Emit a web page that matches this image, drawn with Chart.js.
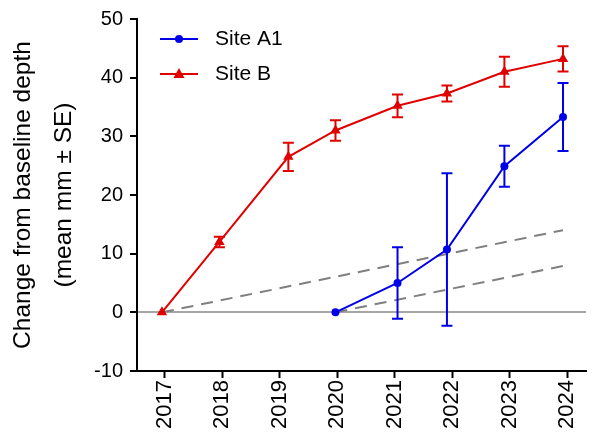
<!DOCTYPE html>
<html><head><meta charset="utf-8">
<script src="https://cdn.jsdelivr.net/npm/chart.js@4.4.0/dist/chart.umd.min.js"></script>
<style>html,body{margin:0;padding:0;background:#fff;}</style>
</head><body>
<canvas id="c" width="592" height="434"></canvas>
<script>
// ---- data ----
const tickYears = [2017, 2018, 2019, 2020, 2021, 2022, 2023, 2024];
const yTickValues = [-10, 0, 10, 20, 30, 40, 50];
const siteALabel = 'Site A1';
const siteAX = [2019.97, 2021.05, 2021.91, 2022.91, 2023.93];
const siteAMean = [0, 5.0, 10.7, 24.9, 33.3];
const siteASE = [0, 6.1, 13.0, 3.5, 5.8];
const siteBLabel = 'Site B';
const siteBX = [2016.95, 2017.95, 2019.15, 2019.97, 2021.05, 2021.91, 2022.91, 2023.93];
const siteBMean = [0, 12.0, 26.5, 31.0, 35.2, 37.3, 41.0, 43.2];
const siteBSE = [0, 0.9, 2.4, 1.75, 1.95, 1.35, 2.55, 2.15];
const refBX = [2016.95, 2023.93];
const refBY = [0, 14.0];
const refAX = [2019.97, 2023.93];
const refAY = [0, 7.9];
const yTitle = ['Change from baseline depth', '(mean mm \u00b1 SE)'];

const BLUE = '#0000e8';
const RED = '#e00000';
const FONT = 'Liberation Sans';

const pts = (xs, ys) => xs.map((v, i) => ({x: v, y: ys[i]}));

const series = [
  {color: BLUE, x: siteAX, mean: siteAMean, se: siteASE},
  {color: RED, x: siteBX, mean: siteBMean, se: siteBSE}
];

const errorBars = {
  id: 'errorBars',
  afterDatasetsDraw(chart) {
    const {ctx, scales: {x, y}} = chart;
    series.forEach(s => {
      ctx.save();
      ctx.strokeStyle = s.color;
      ctx.lineWidth = 2;
      s.x.forEach((xv, i) => {
        const se = s.se[i];
        if (!se) return;
        const px = x.getPixelForValue(xv);
        const top = y.getPixelForValue(s.mean[i] + se);
        const bot = y.getPixelForValue(s.mean[i] - se);
        ctx.beginPath();
        ctx.moveTo(px, top); ctx.lineTo(px, bot);
        ctx.moveTo(px - 5.5, top); ctx.lineTo(px + 5.5, top);
        ctx.moveTo(px - 5.5, bot); ctx.lineTo(px + 5.5, bot);
        ctx.stroke();
      });
      ctx.restore();
    });
  }
};

const customLegend = {
  id: 'customLegend',
  afterDraw(chart) {
    const {ctx, chartArea} = chart;
    const items = [
      {label: siteALabel, color: BLUE, style: 'circle'},
      {label: siteBLabel, color: RED, style: 'triangle'}
    ];
    const x0 = chartArea.left + 23, x1 = chartArea.left + 61, tx = chartArea.left + 78;
    items.forEach((it, i) => {
      const yy = chartArea.top + 20 + i * 35;
      ctx.save();
      ctx.strokeStyle = it.color; ctx.fillStyle = it.color; ctx.lineWidth = 2;
      ctx.beginPath(); ctx.moveTo(x0, yy); ctx.lineTo(x1, yy); ctx.stroke();
      const mx = (x0 + x1) / 2;
      ctx.beginPath();
      if (it.style === 'circle') {
        ctx.arc(mx, yy, 4, 0, Math.PI * 2);
      } else {
        ctx.moveTo(mx, yy - 6); ctx.lineTo(mx + 5.5, yy + 4); ctx.lineTo(mx - 5.5, yy + 4); ctx.closePath();
      }
      ctx.fill();
      ctx.fillStyle = '#000';
      ctx.font = '21px "' + FONT + '"';
      ctx.textBaseline = 'middle';
      ctx.textAlign = 'left';
      ctx.fillText(it.label, tx, yy);
      ctx.restore();
    });
  }
};

new Chart(document.getElementById('c'), {
  type: 'line',
  data: {
    datasets: [
      {label: siteALabel, data: pts(siteAX, siteAMean), borderColor: BLUE, backgroundColor: BLUE,
       borderWidth: 2, pointStyle: 'circle', pointRadius: 4, pointBorderWidth: 0, order: 1, tension: 0},
      {label: siteBLabel, data: pts(siteBX, siteBMean), borderColor: RED, backgroundColor: RED,
       borderWidth: 2, pointStyle: 'triangle', pointRadius: 6, pointBorderWidth: 0, order: 2, tension: 0},
      {label: 'refB', data: pts(refBX, refBY), borderColor: '#7f7f7f', borderWidth: 2,
       borderDash: [12, 8], pointRadius: 0, order: 3},
      {label: 'refA', data: pts(refAX, refAY), borderColor: '#7f7f7f', borderWidth: 2,
       borderDash: [12, 8], pointRadius: 0, order: 3}
    ]
  },
  options: {
    responsive: false,
    animation: false,
    devicePixelRatio: 1,
    layout: {padding: {top: 18, right: 0, left: 0, bottom: 0}},
    plugins: {legend: {display: false}, tooltip: {enabled: false}},
    scales: {
      x: {
        type: 'linear', min: 2016.516, max: 2024.33,
        afterBuildTicks: s => { s.ticks = tickYears.map(v => ({value: v})); },
        afterFit: s => { s.height = 63; s.paddingLeft = 0; s.paddingRight = 0; },
        ticks: {minRotation: 90, maxRotation: 90, autoSkip: false, color: '#000', padding: 2,
                font: {family: FONT, size: 22}, callback: v => String(v)},
        grid: {drawOnChartArea: false, tickColor: '#000', tickLength: 7, tickWidth: 2},
        border: {color: '#000', width: 2}
      },
      y: {
        type: 'linear', min: -10, max: 50,
        afterBuildTicks: s => { s.ticks = yTickValues.map(v => ({value: v})); },
        afterFit: s => { s.width = 137; },
        ticks: {color: '#000', padding: 7, font: {family: FONT, size: 20},
                callback: v => String(v)},
        grid: {color: c => (c.tick && c.tick.value === 0) ? '#a6a6a6' : 'rgba(0,0,0,0)',
               lineWidth: 2, tickColor: '#000', tickLength: 7, tickWidth: 2},
        border: {color: '#000', width: 2},
        title: {display: true, text: yTitle, color: '#000',
                font: {family: FONT, size: 24.5, lineHeight: 1.7}, padding: {top: 2, bottom: 0}}
      }
    }
  },
  plugins: [errorBars, customLegend]
});
</script>
</body></html>
